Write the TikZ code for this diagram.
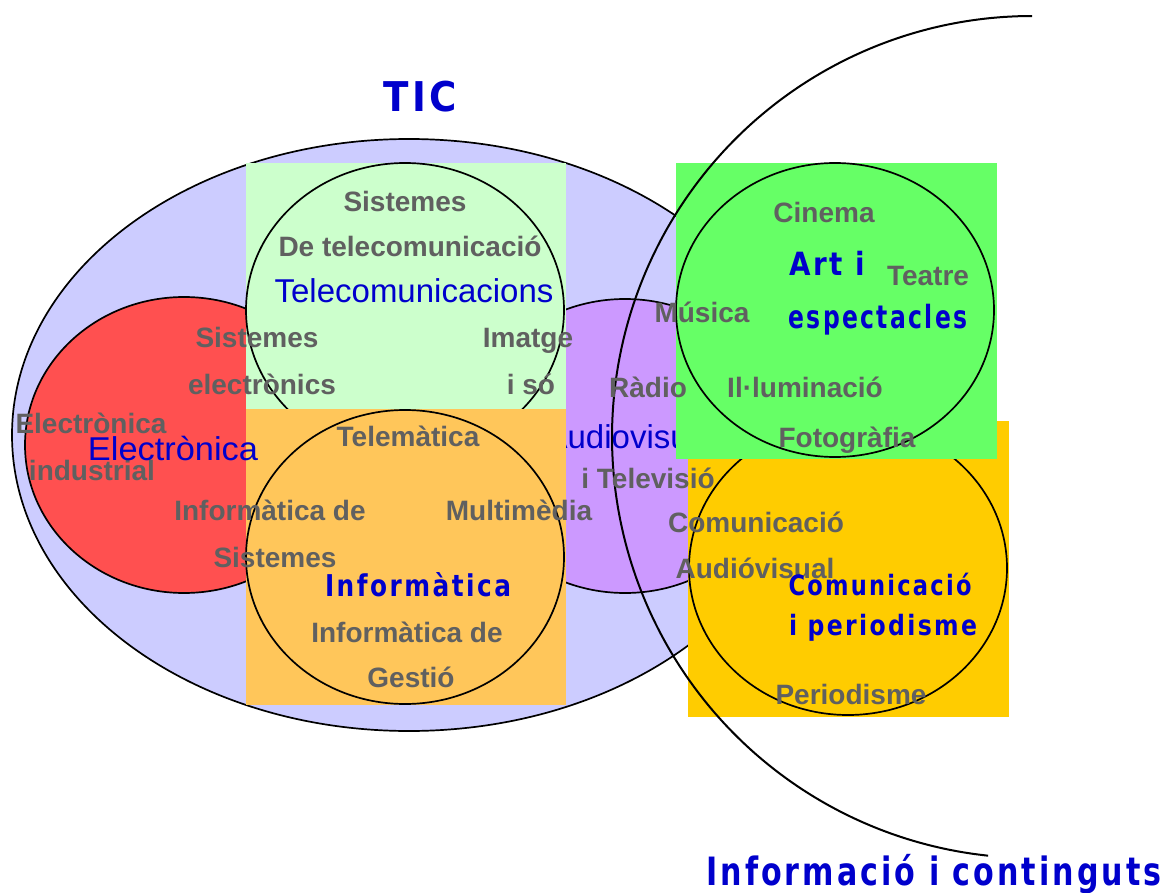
\documentclass[tikz,border=0pt]{standalone}
\usepackage{fontspec}
\usepackage{graphicx}
\setmainfont{Liberation Sans}
\newfontfamily\titlefont{DejaVu Sans}[LetterSpace=10]
\definecolor{lilac}{HTML}{CCCCFF}
\definecolor{redc}{HTML}{FF5050}
\definecolor{purp}{HTML}{CC99FF}
\definecolor{ltgreen}{HTML}{CCFFCC}
\definecolor{orng}{HTML}{FFC65A}
\definecolor{yel}{HTML}{FFCC00}
\definecolor{grn}{HTML}{66FF66}
\definecolor{txtgray}{HTML}{606060}
\definecolor{txtblue}{HTML}{0000CC}
\newcommand{\ttl}[3]{\resizebox{#1pt}{\height}{\titlefont\bfseries\fontsize{#2}{#2}\selectfont #3}}
\begin{document}
\begin{tikzpicture}[x=1pt,y=-1pt,
  circ/.style={draw=black, line width=1.7pt},
  gtxt/.style={text=txtgray, font=\fontsize{28}{28}\selectfont\bfseries, inner sep=0pt, anchor=base},
  btxt/.style={text=txtblue, font=\fontsize{33}{33}\selectfont, inner sep=0pt, anchor=base},
  ttxt/.style={text=txtblue, inner sep=0pt, anchor=base}]
\useasboundingbox (0,0) rectangle (1166,893);
% TIC ellipse and inner circles
\draw[circ, fill=lilac] (409,435) ellipse [x radius=397pt, y radius=296pt];
\draw[circ, fill=redc] (184,445) ellipse [x radius=159pt, y radius=148pt];
\draw[circ, fill=purp] (625,446) ellipse [x radius=159pt, y radius=147pt];
\node[btxt] (audiov) at (630,448) {Audiovisual};
% rectangles with circles
\fill[ltgreen] (246,163) rectangle (566,409);
\draw[circ] (405,310) ellipse [x radius=159pt, y radius=147pt];
\fill[orng] (246,408.5) rectangle (566,705);
\draw[circ] (405,557) ellipse [x radius=159pt, y radius=147pt];
\fill[yel] (688,421) rectangle (1009,717);
\draw[circ] (848,568) ellipse [x radius=159pt, y radius=147pt];
\fill[grn] (676,163) rectangle (997,459);
\draw[circ] (835,310) ellipse [x radius=159pt, y radius=147pt];
% big arc
\draw[line width=2pt] plot[domain=96:270, samples=90, smooth] ({1032+420*cos(\x)},{437+421*sin(\x)});
% gray texts
\node[gtxt] (t1) at (405,212) {Sistemes};
\node[gtxt] (t2) at (410,257) {De telecomunicació};
\node[gtxt] (t3) at (257,347) {Sistemes};
\node[gtxt] (t4) at (262,394) {electrònics};
\node[gtxt] (t5) at (528,347) {Imatge};
\node[gtxt] (t6) at (531,394) {i só};
\node[gtxt] (t7) at (91,433) {Electrònica};
\node[gtxt] (t8) at (92,480) {industrial};
\node[gtxt] (t9) at (408,446) {Telemàtica};
\node[gtxt] (t10) at (270,520) {Informàtica de};
\node[gtxt] (t11) at (275,567) {Sistemes};
\node[gtxt] (t12) at (519,520) {Multimèdia};
\node[gtxt] (t13) at (407,642) {Informàtica de};
\node[gtxt] (t14) at (411,687) {Gestió};
\node[gtxt] (t15) at (824,223) {Cinema};
\node[gtxt] (t16) at (928,285) {Teatre};
\node[gtxt] (t17) at (702,322) {Música};
\node[gtxt] (t18) at (648,397) {Ràdio};
\node[gtxt] (t19) at (805,397) {Il·luminació};
\node[gtxt] (t20) at (847,447) {Fotogràfia};
\node[gtxt] (t21) at (648,488) {i Televisió};
\node[gtxt] (t22) at (756,532) {Comunicació};
\node[gtxt] (t23) at (755,578) {Audióvisual};
\node[gtxt] (t24) at (851,704) {Periodisme};
% blue texts
\node[btxt] (telec) at (414,302) {Telecomunicacions};
\node[btxt] (elec) at (173,460) {\resizebox{170pt}{\height}{Electrònica}};
\node[ttxt] (tic) at (420,112) {\ttl{74}{41}{TIC}};
\node[ttxt] (art) at (827,275) {\ttl{76}{32}{Art i}};
\node[ttxt] (espec) at (878,328) {\ttl{179}{32}{espectacles}};
\node[ttxt] (inf) at (418,596) {\ttl{186}{30}{Informàtica}};
\node[ttxt] (com) at (880,595) {\ttl{183}{28}{Comunicació}};
\node[ttxt] (per) at (883,635) {\ttl{188}{28}{i periodisme}};
\node[ttxt] (ic) at (934,885) {\ttl{455}{39}{Informació i continguts}};
\end{tikzpicture}
\end{document}
